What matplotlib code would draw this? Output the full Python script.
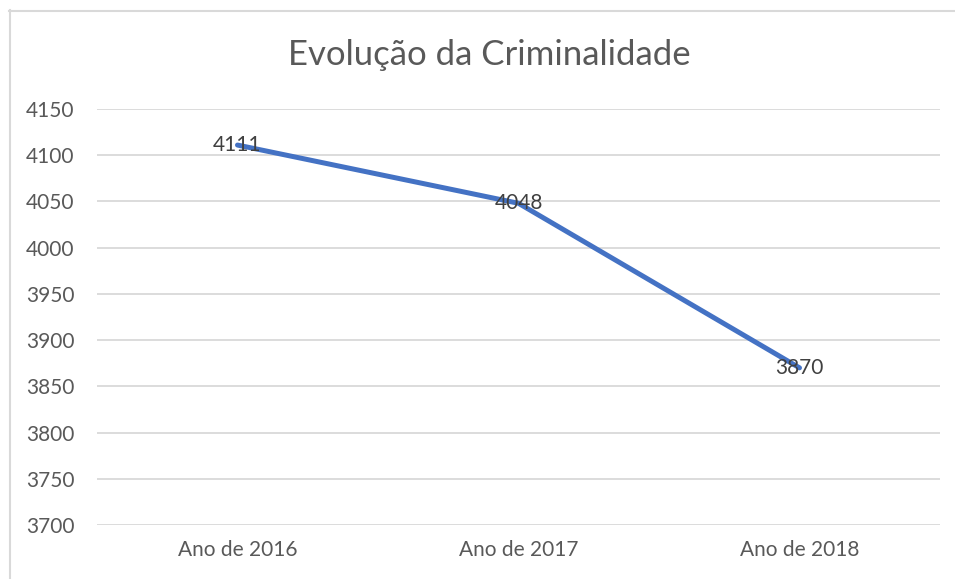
import matplotlib
matplotlib.use("Agg")
import matplotlib.pyplot as plt
from matplotlib.lines import Line2D

# chart data
categories = ["Ano de 2016", "Ano de 2017", "Ano de 2018"]
valores = [4111, 4048, 3870]
y_ticks = [3700, 3750, 3800, 3850, 3900, 3950, 4000, 4050, 4100, 4150]

plt.rcParams["font.family"] = ["Lato", "DejaVu Sans"]
texto = "#595959"
grade = "#D9D9D9"

W, H = 955, 579
fig = plt.figure(figsize=(W / 100, H / 100), dpi=100)
ax = fig.add_axes([97 / W, 1 - 525 / H, (940 - 97) / W, (525 - 109) / H])

x = range(len(categories))
ax.plot(x, valores, color="#4472C4", linewidth=3.6, solid_capstyle="round", zorder=3)

# data labels sit on top of the points, like Excel's "center" position
for xi, v in zip(x, valores):
    ax.text(xi, v, str(v), ha="center", va="center", fontsize=15,
            color="#404040", zorder=4)

ax.set_xlim(-0.5, len(categories) - 0.5)
ax.set_ylim(3700, 4150)
ax.set_yticks(y_ticks)
ax.set_xticks(list(x))
ax.set_xticklabels(categories)
ax.tick_params(axis="both", length=0, labelcolor=texto)
ax.tick_params(axis="y", pad=16, labelsize=15)
ax.tick_params(axis="x", pad=10.5, labelsize=15)
ax.grid(axis="y", color=grade, linewidth=1.3)
ax.set_axisbelow(True)
for s in ax.spines.values():
    s.set_visible(False)

fig.text(489 / W, 1 - 55 / H, "Evolução da Criminalidade", ha="center",
         va="center", fontsize=25, color=texto)

# outer chart frame (only top and left edges visible in the crop)
fig.add_artist(Line2D([9 / W, 1], [1 - 10.5 / H] * 2, color=grade, linewidth=1.5,
                      transform=fig.transFigure))
fig.add_artist(Line2D([9.5 / W] * 2, [0, 1 - 10 / H], color=grade, linewidth=1.5,
                      transform=fig.transFigure))

fig.savefig("out.png", dpi=100)
